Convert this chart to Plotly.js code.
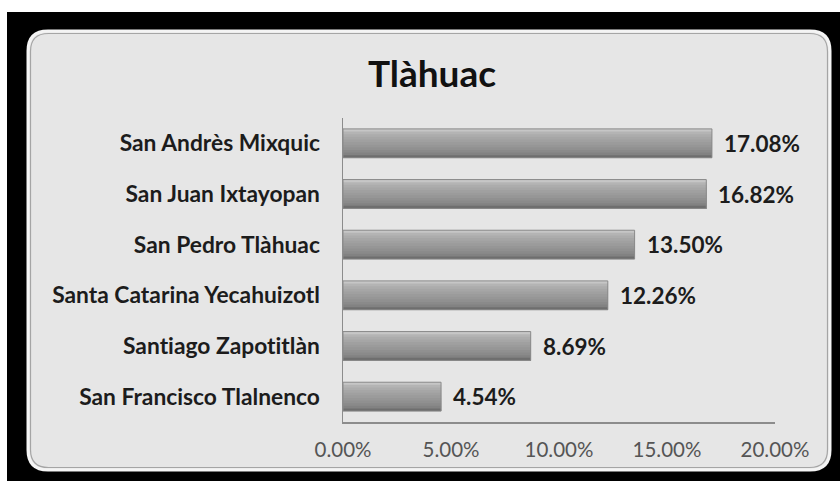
<!DOCTYPE html>
<html>
<head>
<meta charset="utf-8">
<script src="https://cdn.plot.ly/plotly-3.0.1.min.js"></script>
<style>html,body{margin:0;padding:0;background:#fff;}#chart{width:840px;height:481px;}
#chart text{font-variant-ligatures:none;font-feature-settings:"liga" 0,"clig" 0;}</style>
</head>
<body>
<div id="chart"></div>
<script>
// ---- data ----
const categories = ["San Andrès Mixquic", "San Juan Ixtayopan", "San Pedro Tlàhuac",
  "Santa Catarina Yecahuizotl", "Santiago Zapotitlàn", "San Francisco Tlalnenco"];
const values = [17.08, 16.82, 13.50, 12.26, 8.69, 4.54];
const tickValues = [0, 5, 10, 15, 20];
const tickLabels = ["0.00%", "5.00%", "10.00%", "15.00%", "20.00%"];
const chartTitle = "Tlàhuac";

// ---- geometry helpers (pixel -> paper) ----
const W = 840, H = 481;
const M = {l: 343, r: 65, t: 118, b: 59};
const PW = W - M.l - M.r, PH = H - M.t - M.b;
const px = x => (x - M.l) / PW;
const py = y => (H - M.b - y) / PH;

function roundRect(x0, y0, x1, y1, r) {
  const rx = r / PW, ry = r / PH;
  const a = px(x0), b = px(x1), t = py(y0), bo = py(y1);
  return `M ${a + rx} ${t} L ${b - rx} ${t} Q ${b} ${t} ${b} ${t - ry} L ${b} ${bo + ry} Q ${b} ${bo} ${b - rx} ${bo} L ${a + rx} ${bo} Q ${a} ${bo} ${a} ${bo + ry} L ${a} ${t - ry} Q ${a} ${t} ${a + rx} ${t} Z`;
}

// ---- bar gradient (stacked overlay stripes, each reaching to the bar bottom) ----
const barW = 0.57;
const stripeColors = ["#c6c6c6", "#b4b4b4", "#acacac", "#a6a6a6", "#a0a0a0", "#9b9b9b",
  "#969696", "#909090", "#8a8a8a", "#828282", "#6e6e6e"];
const n = stripeColors.length;
const traces = stripeColors.map((c, i) => ({
  type: "bar", orientation: "h",
  x: values, y: categories,
  width: barW - i * barW / n, offset: -barW / 2 + i * barW / n,
  marker: {color: c, line: {width: 0}},
  hoverinfo: "skip", showlegend: false
}));
// outline
traces.push({
  type: "bar", orientation: "h", x: values, y: categories,
  width: barW, offset: -barW / 2,
  marker: {color: "rgba(0,0,0,0)", line: {color: "#8a8a8a", width: 1}},
  hoverinfo: "skip", showlegend: false
});

const annotations = values.map((v, i) => ({
  x: v, y: categories[i], xref: "x", yref: "y",
  text: v.toFixed(2) + "%", showarrow: false,
  xanchor: "left", yanchor: "middle", xshift: 10,
  font: {family: "Lato, sans-serif", size: 22.5, color: "#1c1c1c", weight: 700}
}));

const shapes = [
  {type: "rect", xref: "paper", yref: "paper", x0: px(7), x1: px(840), y0: py(12), y1: py(481),
   fillcolor: "#000", line: {width: 0}, layer: "below"},
  {type: "path", xref: "paper", yref: "paper", path: roundRect(28, 31, 830, 470, 20),
   fillcolor: "#e6e6e6", line: {color: "#f4f4f4", width: 3}, layer: "below"},
  {type: "path", xref: "paper", yref: "paper", path: roundRect(30.5, 33.5, 827.5, 467.5, 18),
   fillcolor: "rgba(0,0,0,0)", line: {color: "#a5a5a5", width: 1.2}, layer: "below"}
];

const layout = {
  width: W, height: H,
  margin: M,
  paper_bgcolor: "#ffffff",
  plot_bgcolor: "rgba(0,0,0,0)",
  barmode: "overlay",
  showlegend: false,
  title: {
    text: chartTitle, xref: "container", yref: "container",
    x: 432 / W, xanchor: "center", y: 1 - 74 / H, yanchor: "middle",
    font: {family: "Lato, sans-serif", size: 37, color: "#111", weight: 700}
  },
  xaxis: {
    range: [0, 20], tickvals: tickValues, ticktext: tickLabels,
    showgrid: false, zeroline: false, showline: true, linecolor: "#8c8c8c", linewidth: 1.5,
    ticks: "", ticklabelstandoff: 9,
    tickfont: {family: "Lato, sans-serif", size: 20.5, color: "#555"}
  },
  yaxis: {
    autorange: "reversed", type: "category",
    showgrid: false, zeroline: false, showline: true, linecolor: "#8c8c8c", linewidth: 1.5,
    ticks: "", ticklabelstandoff: 17,
    tickfont: {family: "Lato, sans-serif", size: 22.8, color: "#1c1c1c", weight: 700}
  },
  shapes: shapes,
  annotations: annotations
};

Plotly.newPlot("chart", traces, layout, {displayModeBar: false, staticPlot: true});
</script>
</body>
</html>
